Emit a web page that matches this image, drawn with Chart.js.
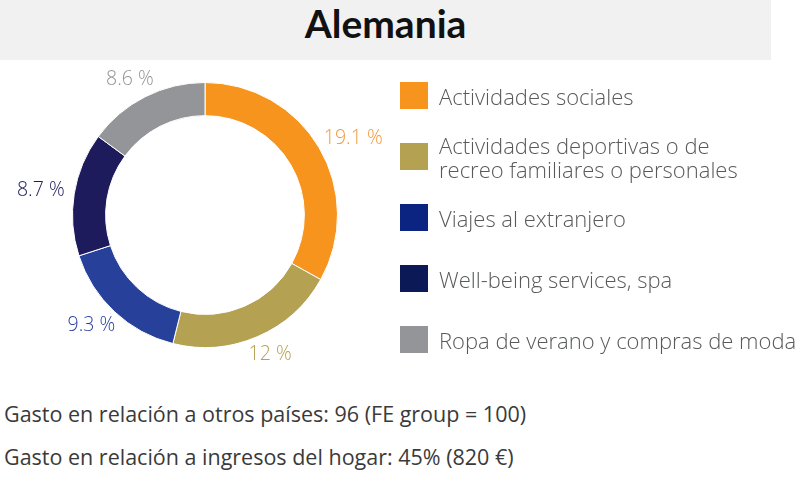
<!DOCTYPE html>
<html>
<head>
<meta charset="utf-8">
<script src="https://cdn.jsdelivr.net/npm/chart.js@4"></script>
<style>
    body { margin: 0; width: 800px; height: 486px; background: #fff; position: relative; overflow: hidden; font-family: 'Open Sans', sans-serif; }
    #titleBar { position: absolute; left: 0; top: 0; width: 771px; height: 60px; background: #f1f1f1; text-align: center; }
    #titleBar span { font-family: Lato, sans-serif; font-weight: bold; font-size: 39px; line-height: 46px; color: #111; }
    #chartBox { position: absolute; left: 0; top: 60px; width: 410px; height: 310px; }
    #legend { position: absolute; left: 400px; top: 82px; }
    .item { position: relative; height: 27px; margin-bottom: 34px; }
    .swatch { position: absolute; left: 0; top: 0; width: 28px; height: 27px; }
    .label { position: absolute; left: 39px; top: 50%; transform: translateY(-50%); font-size: 22px; font-weight: 300; line-height: 24px; color: #58595b; white-space: nowrap; }
    .note { position: absolute; left: 4px; font-size: 21.5px; color: #3a3a3a; white-space: nowrap; }
</style>
</head>
<body>
<div id="titleBar"><span>Alemania</span></div>
<div id="chartBox"><canvas id="donutChart" width="410" height="310"></canvas></div>
<div id="legend"></div>
<div class="note" style="top:399px">Gasto en relación a otros países: 96 (FE group = 100)</div>
<div class="note" style="top:442px">Gasto en relación a ingresos del hogar: 45% (820 €)</div>
<script>
// Data
const categories = [
    ['Actividades sociales'],
    ['Actividades deportivas o de', 'recreo familiares o personales'],
    ['Viajes al extranjero'],
    ['Well-being services, spa'],
    ['Ropa de verano y compras de moda']
];
const values = [19.1, 12, 9.3, 8.7, 8.6];
const valueLabels = ['19.1 %', '12 %', '9.3 %', '8.7 %', '8.6 %'];

// Colours
const sliceColors = ['#f7941d', '#b5a152', '#27419a', '#1d1b5b', '#939598'];
const legendColors = ['#f7941d', '#b5a152', '#0b2482', '#0b1a56', '#939598'];
const labelColors = ['#f49a3a', '#b5a152', '#2b3f9c', '#1d1b5b', '#939598'];

// Build the HTML legend
const legendEl = document.getElementById('legend');
categories.forEach((lines, i) => {
    const item = document.createElement('div');
    item.className = 'item';
    const sw = document.createElement('div');
    sw.className = 'swatch';
    sw.style.background = legendColors[i];
    const lb = document.createElement('div');
    lb.className = 'label';
    lb.innerHTML = lines.join('<br>');
    item.appendChild(sw);
    item.appendChild(lb);
    legendEl.appendChild(item);
});

// Value labels outside the ring
const outsideLabels = {
    id: 'outsideLabels',
    afterDatasetsDraw(chart) {
        const ctx = chart.ctx;
        const meta = chart.getDatasetMeta(0);
        ctx.save();
        ctx.font = '300 19.5px "Open Sans"';
        ctx.textAlign = 'center';
        ctx.textBaseline = 'middle';
        meta.data.forEach((arc, i) => {
            const p = arc.getProps(['x', 'y', 'startAngle', 'endAngle', 'outerRadius'], true);
            const mid = (p.startAngle + p.endAngle) / 2;
            const dx = Math.cos(mid), dy = Math.sin(mid);
            const text = valueLabels[i];
            const w = ctx.measureText(text).width;
            const r = p.outerRadius + 10;
            const x = p.x + dx * r + dx * w / 2;
            const y = p.y + dy * r + dy * 9;
            ctx.fillStyle = labelColors[i];
            ctx.fillText(text, x, y);
        });
        ctx.restore();
    }
};

new Chart(document.getElementById('donutChart'), {
    type: 'doughnut',
    data: {
        labels: categories.map(c => c.join(' ')),
        datasets: [{
            data: values,
            backgroundColor: sliceColors,
            borderColor: '#ffffff',
            borderWidth: 1
        }]
    },
    options: {
        responsive: false,
        animation: false,
        cutout: '75%',
        layout: { padding: { top: 22, bottom: 22, left: 72, right: 72 } },
        plugins: {
            legend: { display: false },
            tooltip: { enabled: false }
        }
    },
    plugins: [outsideLabels]
});
</script>
</body>
</html>
